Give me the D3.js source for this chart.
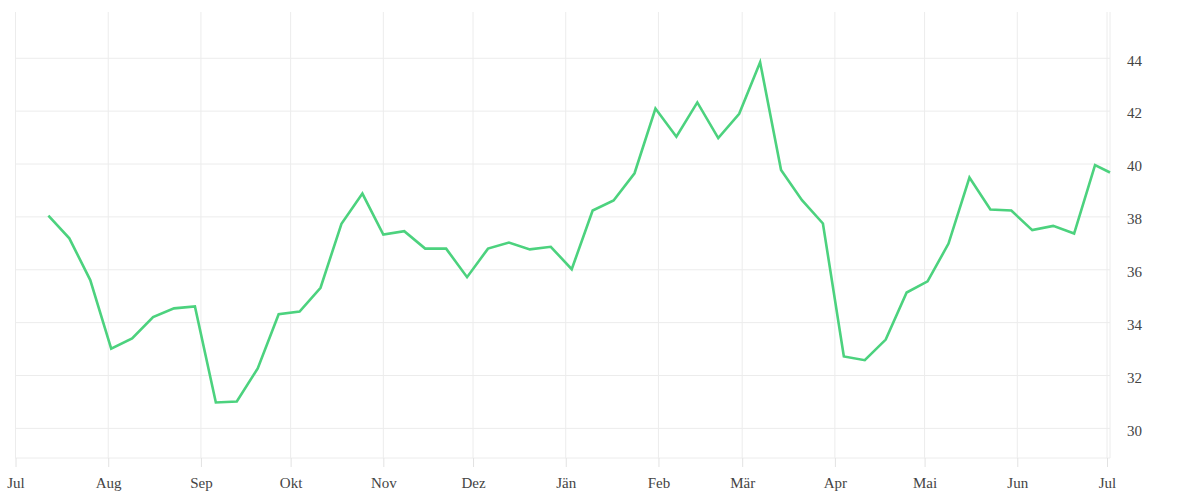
<!DOCTYPE html>
<html>
<head>
<meta charset="utf-8">
<script src="https://cdn.jsdelivr.net/npm/d3@7"></script>
<style>
  body { margin: 0; background: #fff; }
  text { font-family: "Liberation Serif", serif; }
</style>
</head>
<body>
<div id="chart"></div>
<script>
const dates = [
  "2022-07-12", "2022-07-19", "2022-07-26", "2022-08-02", "2022-08-09", "2022-08-16",
  "2022-08-23", "2022-08-30", "2022-09-06", "2022-09-13", "2022-09-20", "2022-09-27",
  "2022-10-04", "2022-10-11", "2022-10-18", "2022-10-25", "2022-11-01", "2022-11-08",
  "2022-11-15", "2022-11-22", "2022-11-29", "2022-12-06", "2022-12-13", "2022-12-20",
  "2022-12-27", "2023-01-03", "2023-01-10", "2023-01-17", "2023-01-24", "2023-01-31",
  "2023-02-07", "2023-02-14", "2023-02-21", "2023-02-28", "2023-03-07", "2023-03-14",
  "2023-03-21", "2023-03-28", "2023-04-04", "2023-04-11", "2023-04-18", "2023-04-25",
  "2023-05-02", "2023-05-09", "2023-05-16", "2023-05-23", "2023-05-30", "2023-06-06",
  "2023-06-13", "2023-06-20", "2023-06-27", "2023-07-02"
];
const values = [
  38.05, 37.19, 35.61, 33.02, 33.40, 34.21, 34.54, 34.61, 30.98, 31.02, 32.27, 34.32,
  34.42, 35.32, 37.74, 38.88, 37.33, 37.46, 36.80, 36.80, 35.72, 36.80, 37.03, 36.77,
  36.87, 36.02, 38.24, 38.62, 39.65, 42.10, 41.03, 42.33, 40.98, 41.90, 43.85, 39.77,
  38.63, 37.75, 32.72, 32.58, 33.36, 35.14, 35.56, 36.99, 39.49, 38.28, 38.24, 37.50,
  37.66, 37.37, 39.96, 39.68
];
const monthTicks = [
  "2022-07-01", "2022-08-01", "2022-09-01", "2022-10-01", "2022-11-01", "2022-12-01",
  "2023-01-01", "2023-02-01", "2023-03-01", "2023-04-01", "2023-05-01", "2023-06-01",
  "2023-07-01"
];
const monthLabels = ["Jul", "Aug", "Sep", "Okt", "Nov", "Dez", "Jän", "Feb", "Mär", "Apr", "Mai", "Jun", "Jul"];
const yTicks = [30, 32, 34, 36, 38, 40, 42, 44];

const width = 1200, height = 500;
const margin = {top: 12, right: 90, bottom: 42, left: 15.5};
const parse = d3.utcParse("%Y-%m-%d");

const data = dates.map((d, i) => ({date: parse(d), value: values[i]}));

const svg = d3.select("#chart").append("svg")
    .attr("width", width)
    .attr("height", height);

const x = d3.scaleUtc()
    .domain([parse("2022-07-01"), parse("2023-07-02")])
    .range([margin.left, width - margin.right]);

const y = d3.scaleLinear()
    .domain([28.88, 45.75])
    .range([height - margin.bottom, margin.top]);

const grid = "#ececec";
const tickDates = monthTicks.map(parse);

// horizontal grid
svg.append("g")
    .selectAll("line")
    .data(yTicks)
    .enter().append("line")
    .attr("x1", margin.left)
    .attr("x2", width - margin.right)
    .attr("y1", d => y(d))
    .attr("y2", d => y(d))
    .attr("stroke", grid);

// vertical grid
svg.append("g")
    .selectAll("line")
    .data(tickDates)
    .enter().append("line")
    .attr("x1", d => x(d))
    .attr("x2", d => x(d))
    .attr("y1", margin.top)
    .attr("y2", height - margin.bottom)
    .attr("stroke", grid);

// frame lines (bottom and right)
svg.append("line")
    .attr("x1", margin.left).attr("x2", width - margin.right)
    .attr("y1", height - margin.bottom).attr("y2", height - margin.bottom)
    .attr("stroke", grid);
svg.append("line")
    .attr("x1", width - margin.right).attr("x2", width - margin.right)
    .attr("y1", margin.top).attr("y2", height - margin.bottom)
    .attr("stroke", grid);

// x axis
const xAxis = svg.append("g")
    .attr("transform", `translate(0,${height - margin.bottom})`)
    .call(d3.axisBottom(x)
        .tickValues(tickDates)
        .tickSize(9)
        .tickPadding(10)
        .tickFormat((d, i) => monthLabels[i]));
xAxis.select(".domain").remove();
xAxis.selectAll(".tick line").attr("stroke", "#e2e2e2");
xAxis.selectAll(".tick text")
    .attr("fill", "#444")
    .style("font-size", "15px")
    .style("font-family", "Liberation Serif, serif");

// y axis
const yAxis = svg.append("g")
    .attr("transform", `translate(${width - margin.right},0)`)
    .call(d3.axisRight(y)
        .tickValues(yTicks)
        .tickSize(0)
        .tickPadding(17));
yAxis.select(".domain").remove();
yAxis.selectAll(".tick text")
    .attr("fill", "#444")
    .attr("dy", "0.45em")
    .style("font-size", "15px")
    .style("font-family", "Liberation Serif, serif");

// line
const line = d3.line()
    .x(d => x(d.date))
    .y(d => y(d.value));

svg.append("path")
    .datum(data)
    .attr("fill", "none")
    .attr("stroke", "#4cd27e")
    .attr("stroke-width", 2.6)
    .attr("stroke-linejoin", "miter")
    .attr("d", line);
</script>
</body>
</html>
